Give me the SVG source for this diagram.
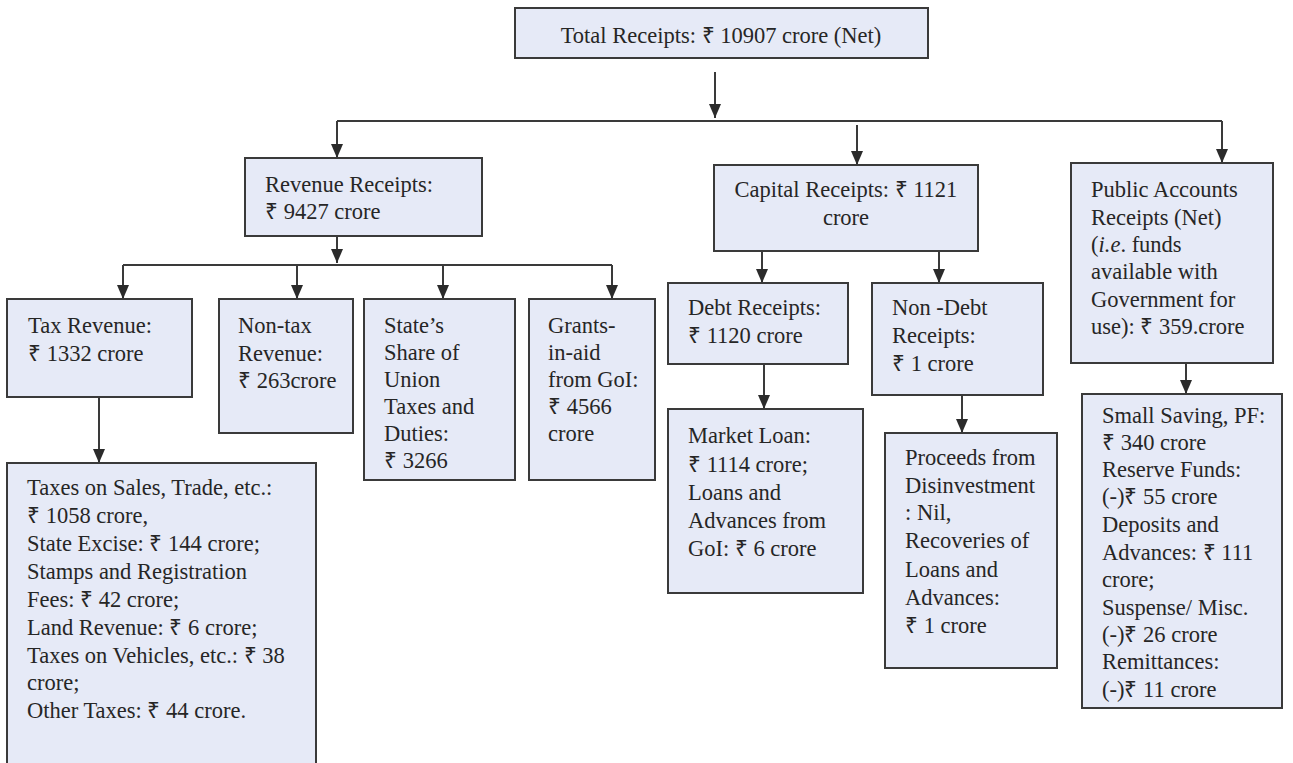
<svg xmlns="http://www.w3.org/2000/svg" width="1293" height="763" viewBox="0 0 1293 763">
<style>
.box{fill:#e6eaf7;stroke:#3a3a3a;stroke-width:2}
text{font-family:"Liberation Serif","Times New Roman",serif;font-size:22.5px;fill:#262626}
.c{text-anchor:middle}
.ln{fill:none;stroke:#3a3a3a;stroke-width:2}
</style>
<defs>
<marker id="ah" viewBox="0 0 14 12" refX="14" refY="6" markerWidth="14" markerHeight="12" markerUnits="userSpaceOnUse" orient="auto">
<path d="M0,0 L14,6 L0,12 z" fill="#2b2b2b"/>
</marker>
</defs>
<rect width="1293" height="763" fill="#ffffff"/>
<g id="connectors">
<path class="ln" d="M715,72 V118" marker-end="url(#ah)"/>
<path class="ln" d="M337,121 H1222"/>
<path class="ln" d="M337,121 V158" marker-end="url(#ah)"/>
<path class="ln" d="M857,125 V165" marker-end="url(#ah)"/>
<path class="ln" d="M1222,121 V163" marker-end="url(#ah)"/>
<path class="ln" d="M337,236 V263" marker-end="url(#ah)"/>
<path class="ln" d="M123,265 H612"/>
<path class="ln" d="M123,265 V299" marker-end="url(#ah)"/>
<path class="ln" d="M297,265 V299" marker-end="url(#ah)"/>
<path class="ln" d="M443,265 V299" marker-end="url(#ah)"/>
<path class="ln" d="M612,265 V299" marker-end="url(#ah)"/>
<path class="ln" d="M99,397 V463" marker-end="url(#ah)"/>
<path class="ln" d="M762,251 V283" marker-end="url(#ah)"/>
<path class="ln" d="M939,251 V283" marker-end="url(#ah)"/>
<path class="ln" d="M764,364 V409" marker-end="url(#ah)"/>
<path class="ln" d="M962,395 V433" marker-end="url(#ah)"/>
<path class="ln" d="M1186,363 V394" marker-end="url(#ah)"/>
</g>
<g id="total">
<rect class="box" x="515" y="8" width="413" height="50"/>
<text class="c" x="721" y="43">Total Receipts: ₹ 10907 crore (Net)</text>
</g>
<g id="revenue">
<rect class="box" x="245" y="158" width="237" height="78"/>
<text x="265" y="192">Revenue Receipts:</text>
<text x="265" y="219">₹ 9427 crore</text>
</g>
<g id="capital">
<rect class="box" x="714" y="165" width="264" height="86"/>
<text class="c" x="846" y="197">Capital Receipts: ₹ 1121</text>
<text class="c" x="846" y="225">crore</text>
</g>
<g id="public">
<rect class="box" x="1071" y="163" width="202" height="200"/>
<text x="1091" y="197">Public Accounts</text>
<text x="1091" y="225">Receipts  (Net)</text>
<text x="1091" y="252">(<tspan font-style="italic">i.e</tspan>. funds</text>
<text x="1091" y="279">available with</text>
<text x="1091" y="307">Government for</text>
<text x="1091" y="334">use): ₹ 359.crore</text>
</g>
<g id="tax">
<rect class="box" x="7" y="299" width="185" height="98"/>
<text x="28" y="333">Tax Revenue:</text>
<text x="28" y="361">₹ 1332 crore</text>
</g>
<g id="nontax">
<rect class="box" x="219" y="299" width="134" height="134"/>
<text x="238" y="333">Non-tax</text>
<text x="238" y="361">Revenue:</text>
<text x="238" y="388">₹ 263crore</text>
</g>
<g id="share">
<rect class="box" x="364" y="299" width="151" height="181"/>
<text x="384" y="333">State’s</text>
<text x="384" y="360">Share of</text>
<text x="384" y="387">Union</text>
<text x="384" y="414">Taxes and</text>
<text x="384" y="441">Duties:</text>
<text x="384" y="468">₹ 3266</text>
</g>
<g id="grants">
<rect class="box" x="529" y="299" width="126" height="181"/>
<text x="548" y="333">Grants-</text>
<text x="548" y="360">in-aid</text>
<text x="548" y="387">from GoI:</text>
<text x="548" y="414">₹ 4566</text>
<text x="548" y="441">crore</text>
</g>
<g id="debt">
<rect class="box" x="668" y="283" width="180" height="81"/>
<text x="688" y="315">Debt Receipts:</text>
<text x="688" y="343">₹ 1120 crore</text>
</g>
<g id="nondebt">
<rect class="box" x="872" y="283" width="171" height="112"/>
<text x="892" y="315">Non -Debt</text>
<text x="892" y="343">Receipts:</text>
<text x="892" y="371">₹ 1 crore</text>
</g>
<g id="taxdetail">
<rect class="box" x="7" y="463" width="309" height="312"/>
<text x="27" y="495">Taxes on Sales, Trade, etc.:</text>
<text x="27" y="523">₹ 1058 crore,</text>
<text x="27" y="551">State Excise: ₹ 144 crore;</text>
<text x="27" y="579">Stamps and Registration</text>
<text x="27" y="607">Fees: ₹ 42 crore;</text>
<text x="27" y="635">Land Revenue: ₹ 6 crore;</text>
<text x="27" y="663">Taxes on Vehicles, etc.: ₹ 38</text>
<text x="27" y="690">crore;</text>
<text x="27" y="718">Other Taxes: ₹ 44 crore.</text>
</g>
<g id="market">
<rect class="box" x="668" y="409" width="195" height="184"/>
<text x="688" y="443">Market Loan:</text>
<text x="688" y="472">₹ 1114 crore;</text>
<text x="688" y="500">Loans and</text>
<text x="688" y="528">Advances from</text>
<text x="688" y="556">GoI: ₹ 6 crore</text>
</g>
<g id="proceeds">
<rect class="box" x="885" y="433" width="172" height="235"/>
<text x="905" y="465">Proceeds from</text>
<text x="905" y="493">Disinvestment</text>
<text x="905" y="520">: Nil,</text>
<text x="905" y="548">Recoveries of</text>
<text x="905" y="577">Loans and</text>
<text x="905" y="605">Advances:</text>
<text x="905" y="633">₹ 1 crore</text>
</g>
<g id="smallsaving">
<rect class="box" x="1082" y="394" width="200" height="314"/>
<text x="1102" y="423">Small Saving, PF:</text>
<text x="1102" y="450">₹ 340 crore</text>
<text x="1102" y="477">Reserve Funds:</text>
<text x="1102" y="504">(-)₹ 55 crore</text>
<text x="1102" y="532">Deposits and</text>
<text x="1102" y="560">Advances: ₹ 111</text>
<text x="1102" y="587">crore;</text>
<text x="1102" y="615">Suspense/ Misc.</text>
<text x="1102" y="642">(-)₹ 26 crore</text>
<text x="1102" y="669">Remittances:</text>
<text x="1102" y="697">(-)₹ 11 crore</text>
</g>
</svg>
